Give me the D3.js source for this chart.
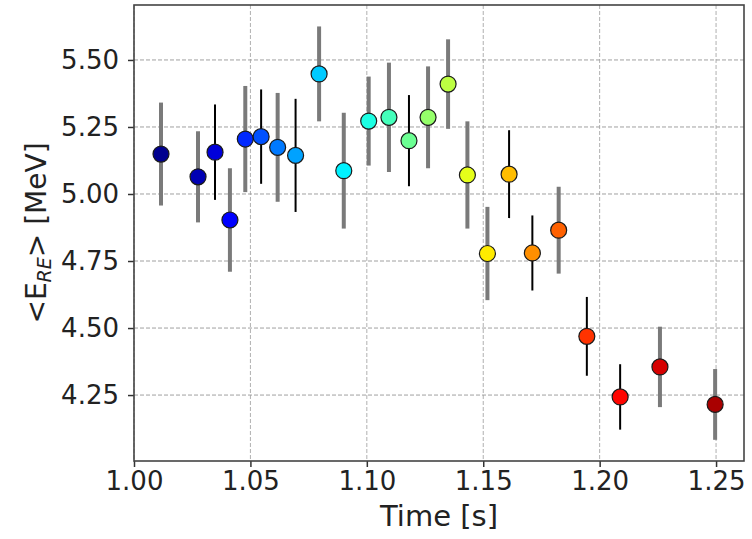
<!DOCTYPE html>
<html>
<head>
<meta charset="utf-8">
<script src="https://cdn.jsdelivr.net/npm/d3@7"></script>
<style>
  html, body { margin: 0; padding: 0; background: #fff; }
  svg { display: block; font-family: "DejaVu Sans", sans-serif; }
</style>
</head>
<body>
<div id="chart"></div>
<script>
// Mean runaway-electron energy vs time, with one error bar per point.
// Points are coloured along a jet colour map in time order.

const time = [1.0116, 1.0275, 1.0348, 1.0412, 1.0478, 1.0546, 1.0617, 1.0694,
  1.0795, 1.0901, 1.1008, 1.1095, 1.1181, 1.1263, 1.1349, 1.1432,
  1.1518, 1.1611, 1.1711, 1.1824, 1.1945, 1.2088, 1.2259, 1.2496];
const energy = [5.149, 5.064, 5.156, 4.903, 5.205, 5.214, 5.174, 5.144,
  5.448, 5.087, 5.272, 5.286, 5.199, 5.286, 5.410, 5.071,
  4.778, 5.074, 4.780, 4.865, 4.469, 4.243, 4.355, 4.215];
const energyErr = [0.192, 0.170, 0.178, 0.193, 0.198, 0.176, 0.203, 0.211,
  0.177, 0.216, 0.166, 0.204, 0.170, 0.190, 0.167, 0.200,
  0.174, 0.164, 0.140, 0.162, 0.147, 0.122, 0.150, 0.132];
// two kinds of bar in the original: wide grey and thin black
const errKind = ["a", "a", "b", "a", "a", "b", "a", "b",
  "a", "a", "a", "a", "b", "a", "a", "a",
  "a", "b", "b", "a", "b", "b", "a", "a"];

const xTicks = [1.00, 1.05, 1.10, 1.15, 1.20, 1.25];
const yTicks = [4.25, 4.50, 4.75, 5.00, 5.25, 5.50];
const xLabel = "Time [s]";

const data = time.map((t, i) => ({ t, e: energy[i], err: energyErr[i], kind: errKind[i], i }));

const width = 752, height = 539;
const m = { top: 5, right: 8, bottom: 78, left: 134 };
const iw = width - m.left - m.right;
const ih = height - m.top - m.bottom;

const svg = d3.select("#chart").append("svg")
  .attr("width", width).attr("height", height).attr("viewBox", `0 0 ${width} ${height}`);
const g = svg.append("g").attr("transform", `translate(${m.left},${m.top})`);

const x = d3.scaleLinear().domain([1.0, 1.262]).range([0, iw]);
const y = d3.scaleLinear().domain([4.004, 5.705]).range([ih, 0]);

// matplotlib "jet"
const jet = d3.scaleLinear()
  .domain([0, 0.125, 0.375, 0.625, 0.875, 1])
  .range(["#000080", "#0000ff", "#00ffff", "#ffff00", "#ff0000", "#800000"])
  .clamp(true);
// position of each point along the colour map (by order)
const n = data.length - 1;
const cpos = d3.scaleLinear().domain([0, 3, 15, n]).range([0.015, 0.125, 0.60, 0.96]);

// grid
const grid = g.append("g").attr("stroke", "#b0b0b0").attr("stroke-width", 1)
  .attr("stroke-dasharray", "4,2");
grid.selectAll("line.gx").data(xTicks).join("line").attr("class", "gx")
  .attr("x1", (d) => x(d)).attr("x2", (d) => x(d)).attr("y1", 0).attr("y2", ih);
grid.selectAll("line.gy").data(yTicks).join("line").attr("class", "gy")
  .attr("stroke", "#a0a0a0")
  .attr("x1", 0).attr("x2", iw).attr("y1", (d) => y(d)).attr("y2", (d) => y(d));

// error bars
g.selectAll("line.err").data(data).join("line").attr("class", "err")
  .attr("x1", (d) => x(d.t)).attr("x2", (d) => x(d.t))
  .attr("y1", (d) => y(d.e - d.err)).attr("y2", (d) => y(d.e + d.err))
  .attr("stroke", (d) => (d.kind === "a" ? "#7a7a7a" : "#000"))
  .attr("stroke-width", (d) => (d.kind === "a" ? 4 : 2));

// markers
g.selectAll("circle").data(data).join("circle")
  .attr("cx", (d) => x(d.t)).attr("cy", (d) => y(d.e))
  .attr("r", 8)
  .attr("fill", (d) => jet(cpos(d.i)))
  .attr("stroke", "#1a1a1a").attr("stroke-width", 1.2);

// axes
const xAxis = g.append("g").attr("transform", `translate(0,${ih})`)
  .call(d3.axisBottom(x).tickValues(xTicks).tickFormat(d3.format(".2f")).tickSize(6).tickPadding(5));
const yAxis = g.append("g")
  .call(d3.axisLeft(y).tickValues(yTicks).tickFormat(d3.format(".2f")).tickSize(6).tickPadding(9));
[xAxis, yAxis].forEach((a) => {
  a.select(".domain").remove();
  a.selectAll(".tick line").attr("stroke", "#333").attr("stroke-width", 1.5);
  a.selectAll(".tick text").attr("fill", "#222").attr("font-size", 26)
    .attr("font-family", "DejaVu Sans, sans-serif");
});

// frame
g.append("rect").attr("x", 0).attr("y", 0).attr("width", iw).attr("height", ih)
  .attr("fill", "none").attr("stroke", "#444").attr("stroke-width", 1.6);

// labels
svg.append("text")
  .attr("x", m.left + iw / 2).attr("y", 526)
  .attr("text-anchor", "middle").attr("font-size", 29).attr("fill", "#222")
  .text(xLabel);

const yl = svg.append("text")
  .attr("transform", `translate(46,${m.top + ih / 2}) rotate(-90)`)
  .attr("text-anchor", "middle").attr("font-size", 28).attr("fill", "#222");
yl.append("tspan").text("<E");
yl.append("tspan").attr("font-size", 19).attr("font-style", "italic").attr("dy", 5).text("RE");
yl.append("tspan").attr("dy", -5).text("> [MeV]");
</script>
</body>
</html>
